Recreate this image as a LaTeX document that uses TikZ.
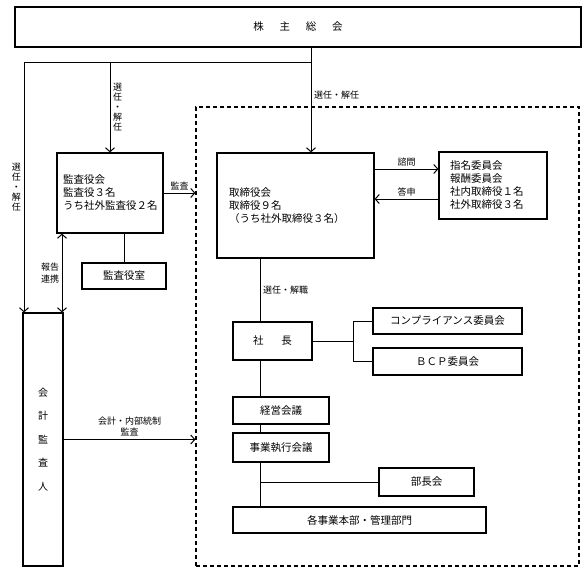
\documentclass[tikz,border=0pt]{standalone}
\usepackage{fontspec}
\setmainfont{Noto Sans CJK JP}
\usetikzlibrary{arrows.meta,positioning}

\tikzset{
  box/.style={draw, line width=1.2pt, inner sep=0pt, font=\fontsize{10.5}{13}\selectfont},
  lbl/.style={font=\fontsize{9}{11.5}\selectfont, inner sep=2.5pt},
  vlbl/.style={lbl, align=center, font=\fontsize{9}{10}\selectfont},
}

\begin{document}
\begin{tikzpicture}[x=1pt, y=-1pt, line width=1pt, >={Straight Barb[length=4pt,width=9pt]}, on grid]
\useasboundingbox (0,0) rectangle (588,573);

% boxes
\node[box, minimum width=566, minimum height=40] (soukai) at (298,27)
  {株\hspace{1.5em}主\hspace{1.5em}総\hspace{1.5em}会};
\node[draw, dashed, dash pattern=on 4pt off 3pt, line width=1.2pt, minimum width=383, minimum height=459] (exec) at (387.5,336.5) {};
\node[box, minimum width=106, minimum height=80, text width=94pt, inner xsep=6pt, align=left] (kansa) at (110,193)
  {監査役会\\監査役３名\\うち社外監査役２名};
\node[box, minimum width=84, minimum height=26] (kansashitsu) at (124,276) {監査役室};
\node[box, minimum width=40, minimum height=253, align=center, font=\fontsize{10}{23.5}\selectfont] (kaikei) at (43,439.5)
  {会\\計\\監\\査\\人};
\node[box, minimum width=157, minimum height=105, text width=133pt, inner xsep=12pt, align=left] (torishimari) at (295.5,205.5)
  {取締役会\\取締役９名\\（うち社外取締役３名）};
\node[box, minimum width=108, minimum height=67, text width=86pt, inner xsep=11pt, align=left] (shimei) at (493,185.5)
  {指名委員会\\報酬委員会\\社内取締役１名\\社外取締役３名};
\node[box, minimum width=79, minimum height=38] (shacho) at (272.5,341) {社\hspace{1.7em}長};
\node[box, minimum width=149, minimum height=26] (comp) at (447.5,321) {コンプライアンス委員会};
\node[box, minimum width=149, minimum height=27] (bcp) [below=40.5pt of comp] {ＢＣＰ委員会};
\node[box, minimum width=96, minimum height=27] (keiei) at (281,410.5) {経営会議};
\node[box, minimum width=96, minimum height=29] (jigyo) [below=37pt of keiei] {事業執行会議};
\node[box, minimum width=95, minimum height=28] (buchou) at (426.5,482) {部長会};
\node[box, minimum width=253, minimum height=26] (kaku) at (359.5,520) {各事業本部・管理部門};

% branch points
\coordinate (split) at (311,62);
\coordinate (lft) at (24,62);
\coordinate (stem) at (260,0);
\coordinate (fork) at (353,0);
\coordinate (dbl) at (62,0);

% lines from the shareholders
\draw (soukai.south -| split) -- (split);
\draw[->] (split) -- (torishimari.north -| split)
  node[lbl, right, pos=0.37] {選任・解任};
\draw[->] (split) -- (lft) -- (kaikei.north -| lft)
  node[vlbl, left, midway] {選\\任\\・\\解\\任};
\draw[->] (kansa |- split) -- (kansa.north)
  node[vlbl, right, midway] {選\\任\\・\\解\\任};

% audit
\draw[->] (kansa.east) -- (kansa.east -| exec.west) node[lbl, above, midway] {監査};
\draw (kansa.south -| kansashitsu) -- (kansashitsu.north);
\draw[<->] (kansa.south -| dbl) -- (kaikei.north -| dbl)
  node[lbl, left, midway, align=center] {報告\\連携};
\draw[->] (kaikei.east) -- (kaikei.east -| exec.west)
  node[lbl, above, midway, align=center] {会計・内部統制\\監査};

% board and committees
\draw[->] ([yshift=16.5pt]shimei.west -| torishimari.east) -- ([yshift=16.5pt]shimei.west)
  node[lbl, above, midway] {諮問};
\draw[->] ([yshift=-13.5pt]shimei.west) -- ([yshift=-13.5pt]shimei.west -| torishimari.east)
  node[lbl, above, midway] {答申};

% executive line
\draw (torishimari.south -| stem) -- (shacho.north -| stem)
  node[lbl, right, midway] {選任・解職};
\draw (shacho.east) -- (shacho.east -| fork);
\draw (comp.west) -- (comp.west -| fork) -- (bcp.west -| fork) -- (bcp.west);
\draw (shacho.south -| stem) -- (keiei.north -| stem);
\draw (keiei.south -| stem) -- (jigyo.north -| stem);
\draw (jigyo.south -| stem) -- (kaku.north -| stem);
\draw (buchou.west) -- (buchou.west -| stem);
\end{tikzpicture}
\end{document}
